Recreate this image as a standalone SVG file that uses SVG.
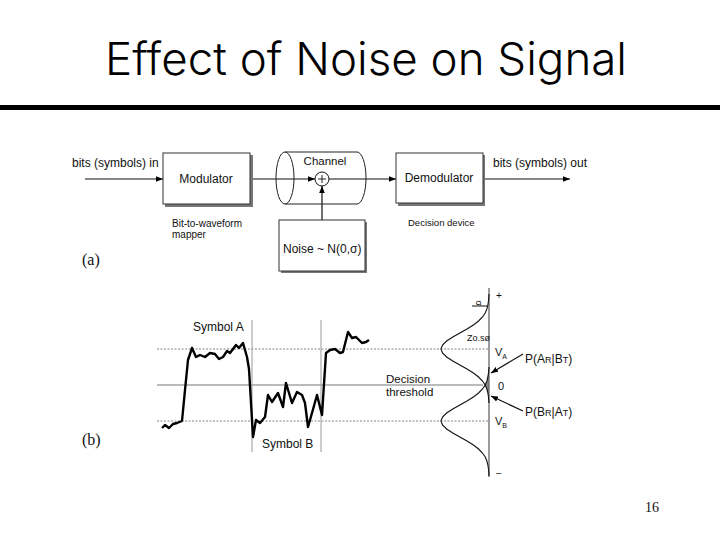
<svg xmlns="http://www.w3.org/2000/svg" width="720" height="540" viewBox="0 0 720 540">
<defs>
<marker id="ah" viewBox="0 0 10 10" refX="10" refY="5" markerWidth="7" markerHeight="7" markerUnits="userSpaceOnUse" orient="auto">
<path d="M0,1 L10,5 L0,9 z" fill="#000"/>
</marker>
<style>
.t{font-family:"Liberation Sans",Arial,sans-serif;fill:#111}
.s{font-family:"Liberation Serif","Times New Roman",serif;fill:#111}
.box{fill:#fff;stroke:#333;stroke-width:1}
.sh{fill:#777}
.ln{stroke:#111;stroke-width:1.2;fill:none}
.dot{stroke:#666;stroke-width:0.8;stroke-dasharray:2,1.5;fill:none}
.gr{stroke:#999;stroke-width:1;fill:none}
.curve{stroke:#111;stroke-width:1.1;fill:none}
</style>
</defs>
<rect width="720" height="540" fill="#fff"/>
<text x="366" y="75" text-anchor="middle" font-family="Inter,'DejaVu Sans',sans-serif" font-weight="300" font-size="45" textLength="522" lengthAdjust="spacingAndGlyphs" fill="#000">Effect of Noise on Signal</text>
<rect x="0" y="105" width="720" height="5" fill="#000"/>

<g id="connectors">
<line class="ln" x1="85" y1="179" x2="163" y2="179" marker-end="url(#ah)"/>
<line class="ln" x1="252" y1="179" x2="315" y2="179" marker-end="url(#ah)"/>
<line class="ln" x1="329" y1="179" x2="396" y2="179" marker-end="url(#ah)"/>
<line class="ln" x1="483" y1="179" x2="570" y2="179" marker-end="url(#ah)"/>
<line class="ln" x1="322" y1="220" x2="322" y2="186" marker-end="url(#ah)"/>
<line class="ln" x1="523" y1="354" x2="491" y2="373" marker-end="url(#ah)"/>
<line class="ln" x1="523" y1="411" x2="491" y2="396" marker-end="url(#ah)"/>
</g>

<g id="modulator">
<rect class="sh" x="165" y="155" width="88" height="52"/>
<rect class="box" x="163" y="153" width="87" height="51"/>
<text class="t" x="206" y="183" text-anchor="middle" font-size="12">Modulator</text>
</g>
<text class="t" x="72" y="167" font-size="12">bits (symbols) in</text>
<text class="t" x="172" y="227" font-size="10">Bit-to-waveform</text>
<text class="t" x="172" y="238" font-size="10">mapper</text>

<g id="channel">
<ellipse cx="285" cy="178" rx="9" ry="26" fill="none" stroke="#222" stroke-width="1"/>
<line x1="285" y1="152" x2="357" y2="152" stroke="#222" stroke-width="1"/>
<line x1="285" y1="204" x2="357" y2="204" stroke="#222" stroke-width="1"/>
<path d="M357,152 A9,26 0 0 1 357,204" fill="none" stroke="#222" stroke-width="1"/>
<text class="t" x="325" y="165" text-anchor="middle" font-size="11.5">Channel</text>
<circle cx="322" cy="179" r="7" fill="#fff" stroke="#111" stroke-width="1"/>
<path d="M318,179 H326 M322,175 V183" stroke="#111" stroke-width="0.9"/>
</g>

<g id="noise">
<rect class="sh" x="281" y="222" width="86" height="51"/>
<rect class="box" x="279" y="220" width="86" height="51"/>
<text class="t" x="283" y="253" font-size="12">Noise ~ N(0,σ)</text>
</g>

<g id="demodulator">
<rect class="sh" x="398" y="155" width="87" height="51"/>
<rect class="box" x="396" y="153" width="87" height="50"/>
<text class="t" x="439" y="182" text-anchor="middle" font-size="12">Demodulator</text>
</g>
<text class="t" x="493" y="167" font-size="12">bits (symbols) out</text>
<text class="t" x="408" y="226" font-size="9.5">Decision device</text>

<text class="s" x="82" y="265" font-size="16">(a)</text>
<text class="s" x="82" y="445" font-size="16">(b)</text>

<g id="waveform-plot">
<line class="dot" x1="157" y1="349" x2="489" y2="349"/>
<line class="dot" x1="157" y1="421" x2="489" y2="421"/>
<line x1="157" y1="385" x2="483" y2="385" stroke="#777" stroke-width="1"/>
<line class="gr" x1="252" y1="320" x2="252" y2="452"/>
<line class="gr" x1="321" y1="320" x2="321" y2="452"/>
<polyline fill="none" stroke="#000" stroke-width="2.4" stroke-linejoin="round" points="162,428 165,425 169,428 173,424 177,423 182,421 185,390 188,360 192,348 196,357 200,355 205,357 210,353 215,354 219,359 223,357 227,351 230,353 236,345 239,348 243,343 247,357 249,369 253,437 256,420 260,423 265,417 268,395 272,402 278,393 283,407 286,383 292,403 297,392 302,395 305,403 308,427 312,413 317,395 322,415 326,353 330,350 335,349 340,353 343,352 348,332 352,338 356,337 362,343 366,342 369,340"/>
<text class="t" x="193" y="331" font-size="12">Symbol A</text>
<text class="t" x="262" y="448" font-size="12">Symbol B</text>
<text class="t" x="386" y="383" font-size="11.5">Decision</text>
<text class="t" x="386" y="396" font-size="11.5">threshold</text>
</g>

<g id="pdf-plot">
<polygon fill="#888" points="485.2,385 486.9,381 487.9,377 488.6,372 489,372 489,398 488.6,398 487.9,393 486.9,389"/>
<line x1="489" y1="288" x2="489" y2="477" stroke="#666" stroke-width="1.3"/>
<polyline class="curve" points="489,294 488.6,300 487.9,305 486.9,309 485.2,313 482.5,317 478.6,321 473.4,325 467,329 459.9,333 452.8,337 446.6,341 442.5,345 441,349 442.5,353 446.6,357 452.8,361 459.9,365 467,369 473.4,373 478.6,377 482.5,381 485.2,385 486.9,389 487.9,393 488.6,398 489,403"/>
<polyline class="curve" points="489,367 488.6,372 487.9,377 486.9,381 485.2,385 482.5,389 478.6,393 473.4,397 467,401 459.9,405 452.8,409 446.6,413 442.5,417 441,421 442.5,425 446.6,429 452.8,433 459.9,437 467,441 473.4,445 478.6,449 482.5,453 485.2,457 486.9,461 487.9,465 488.6,470 489,476"/>
<line x1="472" y1="306" x2="487" y2="306" stroke="#111" stroke-width="1"/>
<text class="t" x="476" y="303" font-size="9" text-anchor="middle" transform="rotate(90 476 303)">σ</text>
<text class="t" x="467" y="341" font-size="9">Zo.sø</text>
<text class="t" x="496" y="299" font-size="10">+</text>
<text class="t" x="496" y="477" font-size="10">−</text>
<text class="t" x="495" y="356" font-size="11">V<tspan font-size="7" dy="3">A</tspan></text>
<text class="t" x="498" y="390" font-size="11">0</text>
<text class="t" x="495" y="425" font-size="11">V<tspan font-size="7" dy="3">B</tspan></text>
<text class="t" x="525" y="363" font-size="12">P(A<tspan font-size="9">R</tspan>|B<tspan font-size="9">T</tspan>)</text>
<text class="t" x="525" y="416" font-size="12">P(B<tspan font-size="9">R</tspan>|A<tspan font-size="9">T</tspan>)</text>
</g>

<text class="s" x="645" y="512" font-size="14">16</text>
</svg>
